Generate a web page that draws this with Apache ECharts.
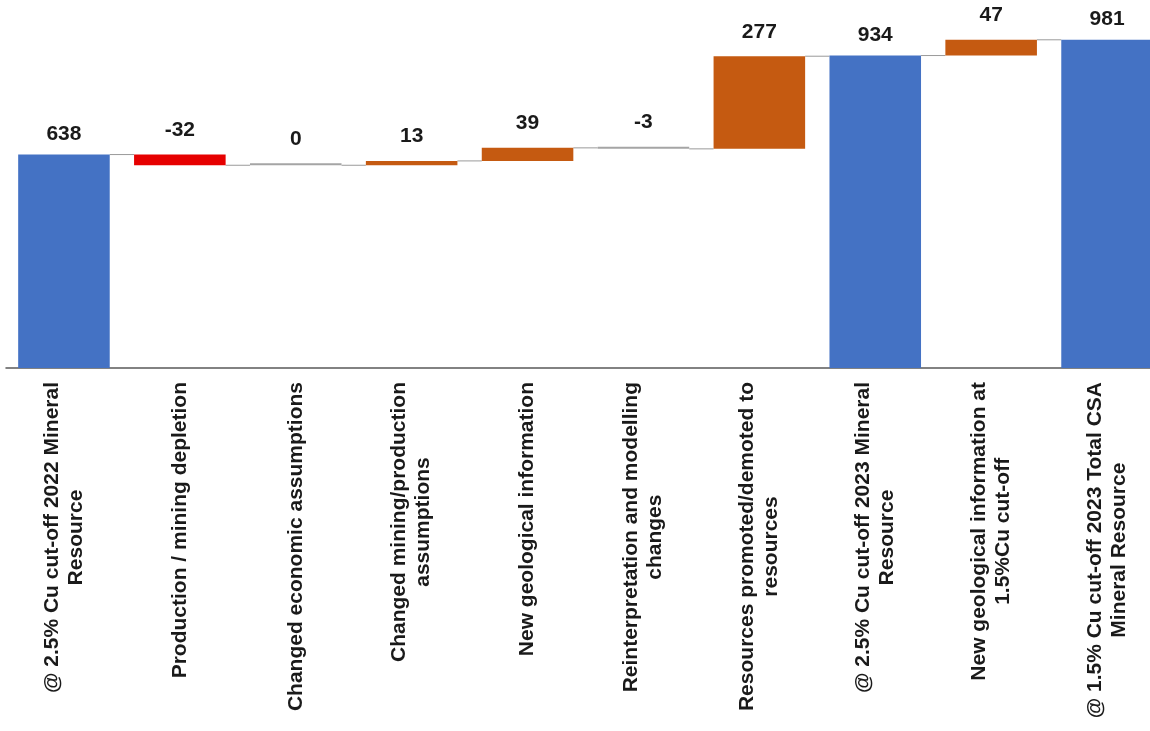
<!DOCTYPE html>
<html>
<head>
<meta charset="utf-8">
<script src="https://cdn.jsdelivr.net/npm/echarts@6/dist/echarts.min.js"></script>
<style>
  html, body { margin: 0; padding: 0; background: #ffffff; overflow: hidden; }
  #chart { width: 1170px; height: 731px; }
</style>
</head>
<body>
<div id="chart"></div>
<script>
// ---- Data ----
const categories = [
  '@ 2.5% Cu cut-off 2022 Mineral\nResource',
  'Production / mining depletion',
  'Changed economic assumptions',
  'Changed mining/production\nassumptions',
  'New geological information',
  'Reinterpretation and modelling\nchanges',
  'Resources promoted/demoted to\nresources',
  '@ 2.5% Cu cut-off 2023 Mineral\nResource',
  'New geological information at\n1.5%Cu cut-off',
  '@ 1.5% Cu cut-off 2023 Total CSA\nMineral Resource'
];
const values = [638, -32, 0, 13, 39, -3, 277, 934, 47, 981];
const isTotal = [true, false, false, false, false, false, false, true, false, true];
const barColors = ['#4472C4', '#E60000', '#A5A5A5', '#C55A11', '#C55A11', '#A5A5A5', '#C55A11', '#4472C4', '#C55A11', '#4472C4'];

// ---- Build waterfall stacks ----
const baseData = [];
const visData = [];
const levels = [];
let level = 0;
values.forEach((v, i) => {
  if (isTotal[i]) {
    baseData.push(0);
    visData.push(v);
    level = v;
  } else {
    const start = level, end = level + v;
    baseData.push(Math.min(start, end));
    visData.push(Math.abs(v));
    level = end;
  }
  levels.push(level);
});

const connectorData = [];
for (let i = 0; i < values.length - 1; i++) connectorData.push([i, levels[i]]);

const FONT = "'Liberation Sans', Arial, sans-serif";
const BAR_RATIO = 0.79;

const chart = echarts.init(document.getElementById('chart'), null, { renderer: 'canvas' });
chart.setOption({
  animation: false,
  backgroundColor: '#ffffff',
  grid: { left: 6, top: 0, width: 1159, height: 368, containLabel: false },
  xAxis: {
    type: 'category',
    data: categories,
    axisLine: { show: true, lineStyle: { color: '#595959', width: 1.5 } },
    axisTick: { show: false },
    axisLabel: {
      interval: 0,
      rotate: 90,
      margin: 14,
      formatter: function (val) {
        return val.split('\n').map(s => '{c|' + s + '}').join('\n');
      },
      rich: {
        c: {
          align: 'center',
          fontFamily: FONT,
          fontSize: 21,
          fontWeight: 'bold',
          color: '#1a1a1a',
          lineHeight: 24
        }
      }
    }
  },
  yAxis: {
    type: 'value',
    min: 0,
    max: 1100,
    show: false,
    splitLine: { show: false }
  },
  series: [
    {
      name: 'base',
      type: 'bar',
      stack: 'wf',
      barWidth: (BAR_RATIO * 100) + '%',
      itemStyle: { color: 'transparent' },
      emphasis: { disabled: true },
      data: baseData
    },
    {
      name: 'value',
      type: 'bar',
      stack: 'wf',
      barWidth: (BAR_RATIO * 100) + '%',
      barMinHeight: 2,
      z: 3,
      data: visData.map((h, i) => ({
        value: h,
        itemStyle: { color: barColors[i] },
        label: {
          show: true,
          position: 'top',
          distance: isTotal[i] ? 10 : 14,
          formatter: String(values[i]),
          fontFamily: FONT,
          fontSize: 21,
          fontWeight: 'bold',
          color: '#1a1a1a',
          lineHeight: 21
        }
      }))
    },
    {
      name: 'connectors',
      type: 'custom',
      z: 2,
      silent: true,
      data: connectorData,
      renderItem: function (params, api) {
        const p = api.coord([api.value(0), api.value(1)]);
        const bw = api.size([1, 0])[0];
        const half = bw * BAR_RATIO / 2;
        return {
          type: 'line',
          shape: { x1: p[0] + half, y1: p[1], x2: p[0] + bw - half, y2: p[1] },
          style: { stroke: '#9a9a9a', lineWidth: 1 }
        };
      }
    }
  ]
});
</script>
</body>
</html>
